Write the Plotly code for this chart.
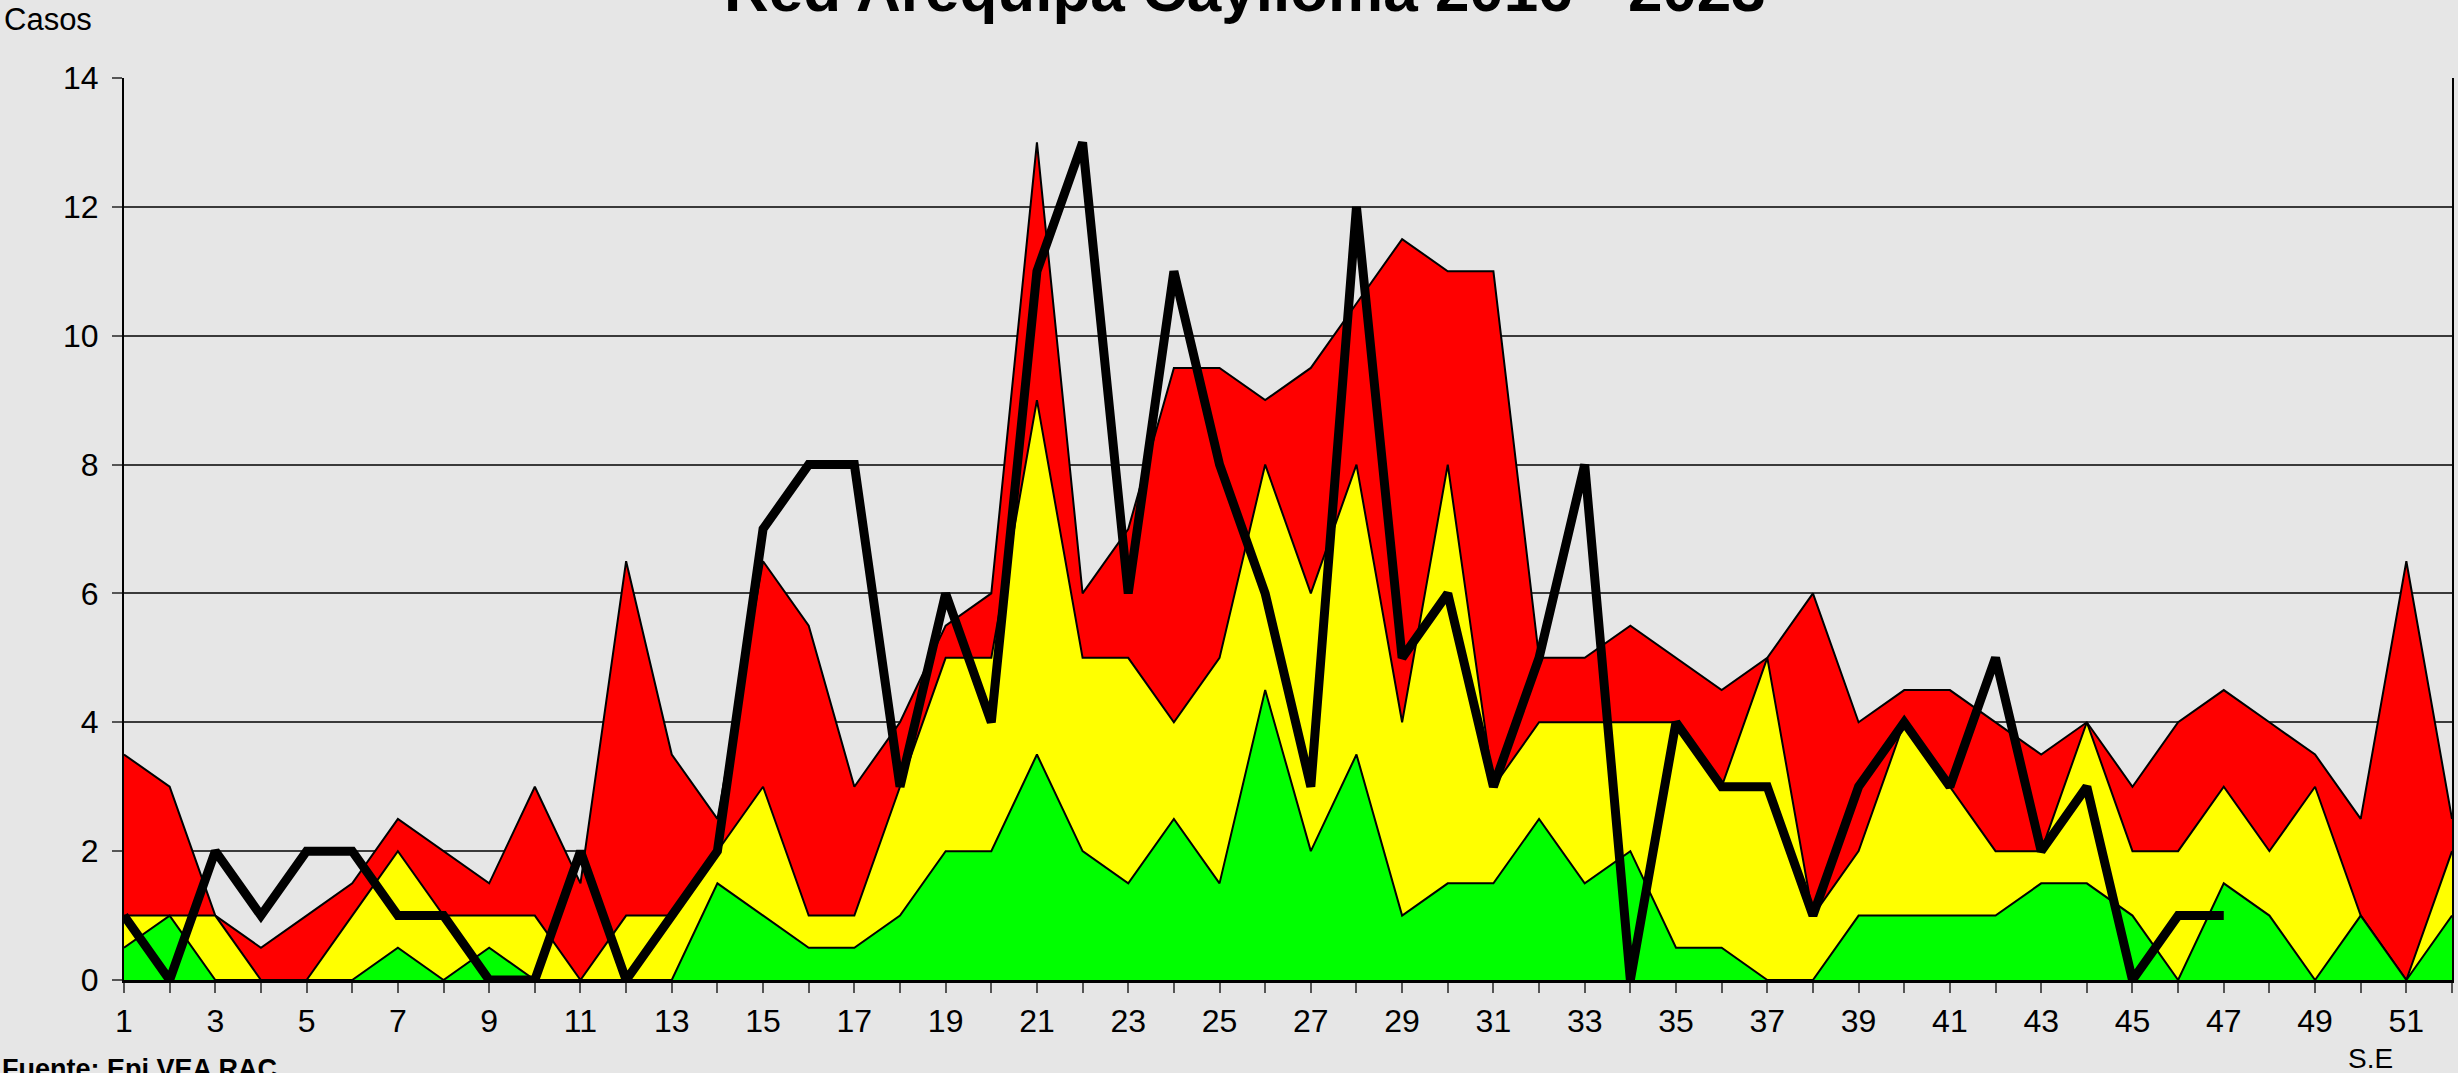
import plotly.graph_objects as go

# semanas epidemiologicas
semanas = list(range(1, 53))

# corredor endemico (zonas)
alarma = [3.5, 3, 1, 0.5, 1, 1.5, 2.5, 2, 1.5, 3, 1.5, 6.5, 3.5, 2.5, 6.5, 5.5, 3, 4, 5.5, 6,
          13, 6, 7, 9.5, 9.5, 9, 9.5, 10.5, 11.5, 11, 11, 5, 5, 5.5, 5, 4.5, 5, 6, 4, 4.5,
          4.5, 4, 3.5, 4, 3, 4, 4.5, 4, 3.5, 2.5, 6.5, 2.5]
seguridad = [1, 1, 1, 0, 0, 1, 2, 1, 1, 1, 0, 1, 1, 2, 3, 1, 1, 3, 5, 5,
             9, 5, 5, 4, 5, 8, 6, 8, 4, 8, 3, 4, 4, 4, 4, 3, 5, 1, 2, 4,
             3, 2, 2, 4, 2, 2, 3, 2, 3, 1, 0, 2]
exito = [0.5, 1, 0, 0, 0, 0, 0.5, 0, 0.5, 0, 0, 0, 0, 1.5, 1, 0.5, 0.5, 1, 2, 2,
         3.5, 2, 1.5, 2.5, 1.5, 4.5, 2, 3.5, 1, 1.5, 1.5, 2.5, 1.5, 2, 0.5, 0.5, 0, 0, 1, 1,
         1, 1, 1.5, 1.5, 1, 0, 1.5, 1, 0, 1, 0, 1]

# casos del año actual (hasta la SE 47)
casos_2023 = [1, 0, 2, 1, 2, 2, 1, 1, 0, 0, 2, 0, 1, 2, 7, 8, 8, 3, 6, 4,
              11, 13, 6, 11, 8, 6, 3, 12, 5, 6, 3, 5, 8, 0, 4, 3, 3, 1, 3, 4,
              3, 5, 2, 3, 0, 1, 1]

x_ticktext = [str(s) if s % 2 == 1 else "" for s in semanas]
y_tickvals = [0, 2, 4, 6, 8, 10, 12, 14]

FONT = "Liberation Sans, Arial, sans-serif"
BG = "#E6E6E6"

fig = go.Figure()
for vals, col in [(alarma, "#FF0000"), (seguridad, "#FFFF00"), (exito, "#00FF00")]:
    fig.add_trace(go.Scatter(x=semanas, y=vals, mode="lines", fill="tozeroy",
                             fillcolor=col, line=dict(color="black", width=2),
                             showlegend=False))

fig.add_trace(go.Scatter(x=semanas[:len(casos_2023)], y=casos_2023, mode="lines",
                         line=dict(color="black", width=9), showlegend=False))

fig.update_layout(
    width=2458, height=1073,
    paper_bgcolor=BG, plot_bgcolor=BG,
    margin=dict(l=124, r=4, t=78, b=93),
    font=dict(family=FONT, size=32, color="black"),
    showlegend=False,
)
fig.update_xaxes(range=[1, 52], tickvals=semanas, ticktext=x_ticktext,
                 ticks="outside", ticklen=10, tickcolor="#555555", tickwidth=2,
                 showgrid=False, zeroline=False, showline=True, linecolor="black",
                 linewidth=3, ticklabelstandoff=1, tickfont=dict(size=32))
fig.update_yaxes(range=[0, 14], tickvals=y_tickvals,
                 ticks="outside", ticklen=10, tickcolor="#555555", tickwidth=2,
                 showgrid=True, gridcolor="#3a3a3a", gridwidth=1.5, zeroline=False,
                 showline=True, mirror=True, linecolor="black", linewidth=2,
                 ticklabelstandoff=7, tickfont=dict(size=32))

fig.add_annotation(text="<b>Red Arequipa Caylloma 2016 - 2023</b>", xref="paper", yref="paper",
                   x=0.4815, y=1.0575, xanchor="center", yanchor="bottom", showarrow=False,
                   font=dict(size=62, family=FONT))
fig.add_annotation(text="Casos", xref="paper", yref="paper", x=-0.0524, y=1.043,
                   xanchor="left", yanchor="bottom", showarrow=False, font=dict(size=31))
fig.add_annotation(text="S.E", xref="paper", yref="paper", x=0.9652, y=-0.106,
                   xanchor="center", yanchor="bottom", showarrow=False, font=dict(size=28))
fig.add_annotation(text="<b>Fuente: Epi VEA RAC</b>", xref="paper", yref="paper",
                   x=-0.0532, y=-0.0795, xanchor="left", yanchor="top", showarrow=False,
                   font=dict(size=27))

# sin el margen por defecto del body, para que el grafico empiece en 0,0
fig.write_html("out.html", config={"displayModeBar": False},
               post_script="document.body.style.margin='0';")
